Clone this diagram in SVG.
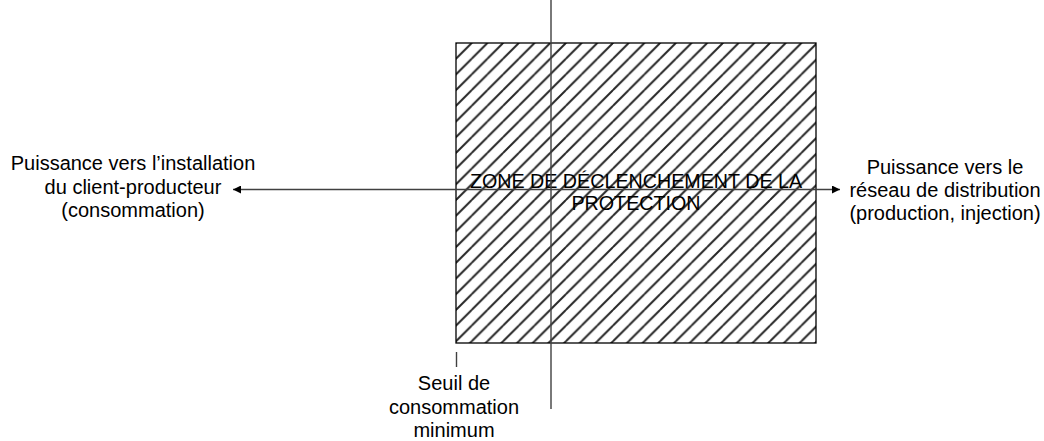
<svg xmlns="http://www.w3.org/2000/svg" width="1044" height="441" viewBox="0 0 1044 441">
<style>
.lbl{font-family:"Liberation Sans",Arial,sans-serif;font-size:20px;fill:#000;text-anchor:middle}
.zone{font-family:"Liberation Sans",Arial,sans-serif;font-size:19.7px;fill:#000;text-anchor:middle}
.axis{stroke:#404040;stroke-width:1.4;fill:none}
</style>
<defs>
<pattern id="hatch" patternUnits="userSpaceOnUse" x="456" y="43" width="15.7" height="15.7">
<path d="M-2,17.7 L17.7,-2 M-4,3.85 L3.85,-4 M11.85,19.7 L19.7,11.85" stroke="#262626" stroke-width="2" fill="none"/>
</pattern>
<marker id="arr" viewBox="0 0 10 10" refX="10" refY="5" markerWidth="9" markerHeight="8" markerUnits="userSpaceOnUse" orient="auto-start-reverse">
<path d="M0,0 L10,5 L0,10 z" fill="#000"/>
</marker>
</defs>
<g id="zone">
<rect x="456" y="43" width="360" height="300" fill="#fff"/>
<rect x="456" y="43" width="360" height="300" fill="url(#hatch)" stroke="#000" stroke-width="1.3"/>
<text class="zone" x="636" y="187.5">ZONE DE DÉCLENCHEMENT DE LA</text>
<text class="zone" x="636" y="209.5">PROTECTION</text>
</g>
<g id="connectors">
<line class="axis" x1="551" y1="0" x2="551" y2="409"/>
<line class="axis" x1="233" y1="189.5" x2="840" y2="189.5" marker-start="url(#arr)" marker-end="url(#arr)"/>
<line class="axis" x1="456.5" y1="352" x2="456.5" y2="367"/>
</g>
<g id="label-left">
<text class="lbl" x="133" y="170">Puissance vers l’installation</text>
<text class="lbl" x="133" y="193.5">du client-producteur</text>
<text class="lbl" x="133" y="217">(consommation)</text>
</g>
<g id="label-right">
<text class="lbl" x="945" y="173.5">Puissance vers le</text>
<text class="lbl" x="945" y="196.5">réseau de distribution</text>
<text class="lbl" x="945" y="219.5">(production, injection)</text>
</g>
<g id="label-bottom">
<text class="lbl" x="454" y="390">Seuil de</text>
<text class="lbl" x="454" y="413.5">consommation</text>
<text class="lbl" x="454" y="437">minimum</text>
</g>
</svg>
